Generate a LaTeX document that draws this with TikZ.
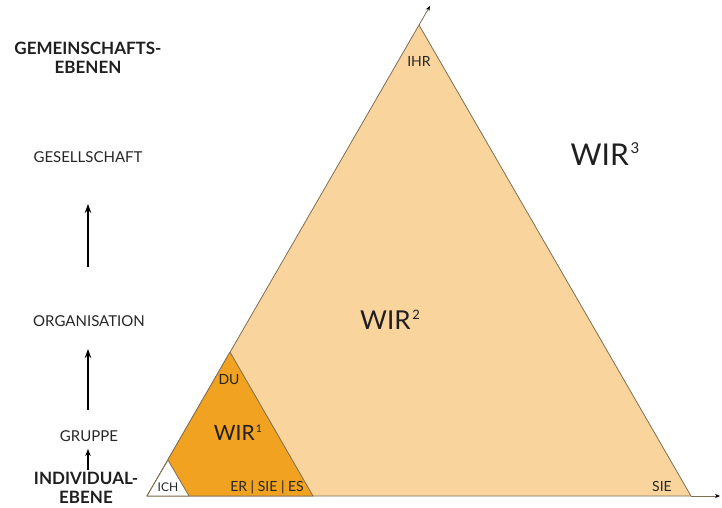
\documentclass[tikz,border=0pt]{standalone}
\usepackage{fontspec}
\setmainfont{Lato}
\usetikzlibrary{arrows.meta}
\definecolor{peach}{RGB}{249,213,157}
\definecolor{amber}{RGB}{240,162,32}
\definecolor{rim}{RGB}{125,110,85}
% small raised index after WIR
\newcommand{\wirsup}[1]{\kern0.06em\raisebox{0.4em}{\scalebox{0.5}{#1}}}
\tikzset{
  lvl/.style={font=\fontsize{15}{15}\selectfont, text=black!85, inner sep=0pt},
  lvlbold/.style={font=\fontsize{17}{18.5}\bfseries\selectfont, text=black!88, inner sep=0pt, align=center},
  tag/.style={font=\fontsize{14}{14}\selectfont, text=black!85, inner sep=0pt},
  wir/.style={inner sep=0pt, text=black!88},
  uparrow/.style={line width=1.8pt, -{Stealth[length=9pt,width=6.5pt]}},
  axis/.style={draw=rim, line width=0.8pt, arrows={-{Stealth[length=5pt,width=4pt,black]}}},
  edge/.style={draw=rim, line width=0.8pt, line join=round}
}
\begin{document}
\begin{tikzpicture}[x=1pt, y=-1pt]
\useasboundingbox (0,0) rectangle (722,507);
% corners of the three nested triangles
\coordinate (L) at (147,496);
\coordinate (R) at (691,496);
\coordinate (T) at (419,25);
\coordinate (m) at (313,496);
\coordinate (mt) at (230,352);
\coordinate (s) at (189,496);
\coordinate (st) at (168,460);
\coordinate (xend) at (720,496);
\coordinate (yend) at (430,6);
% triangles
\filldraw[edge, fill=peach] (L) -- (T) -- (R) -- cycle;
\filldraw[edge, fill=amber] (L) -- (mt) -- (m) -- cycle;
\filldraw[edge, fill=white] (L) -- (st) -- (s) -- cycle;
% axes running on from the corners
\draw[axis] (R) -- (xend);
\draw[axis] (T) -- (yend);
% labels inside the triangles
\node[tag] (ihr) at (419,61) {IHR};
\node[tag] (sie) at (662,486) {SIE};
\node[tag] (du) at (229,380) {DU};
\node[tag, font=\fontsize{12}{12}\selectfont] (ich) at (168,487) {ICH};
\node[tag] (ersiees) at (267,487) {ER | SIE | ES};
\node[wir, font=\fontsize{21}{21}\selectfont] (w1) at (238,433) {WIR\wirsup{1}};
\node[wir, font=\fontsize{26}{26}\selectfont] (w2) at (390,320) {WIR\wirsup{2}};
\node[wir, font=\fontsize{30}{30}\selectfont] (w3) at (605,154) {WIR\wirsup{3}};
% levels on the left
\node[lvlbold] (gem) at (88,58) {GEMEINSCHAFTS-\\EBENEN};
\node[lvlbold] (ind) at (86,488) {INDIVIDUAL-\\EBENE};
\node[lvl] (ges) at (88,157) {GESELLSCHAFT};
\node[lvl] (org) at (89,321) {ORGANISATION};
\node[lvl] (gru) at (89,436) {GRUPPE};
\coordinate (a1s) at (88,267); \coordinate (a1e) at (88,204);
\coordinate (a2s) at (88,410); \coordinate (a2e) at (88,349);
\coordinate (a3s) at (88,470); \coordinate (a3e) at (88,449);
\draw[uparrow] (a1s) -- (a1e);
\draw[uparrow] (a2s) -- (a2e);
\draw[uparrow, -{Stealth[length=7pt,width=5.5pt]}] (a3s) -- (a3e);
\end{tikzpicture}
\end{document}
